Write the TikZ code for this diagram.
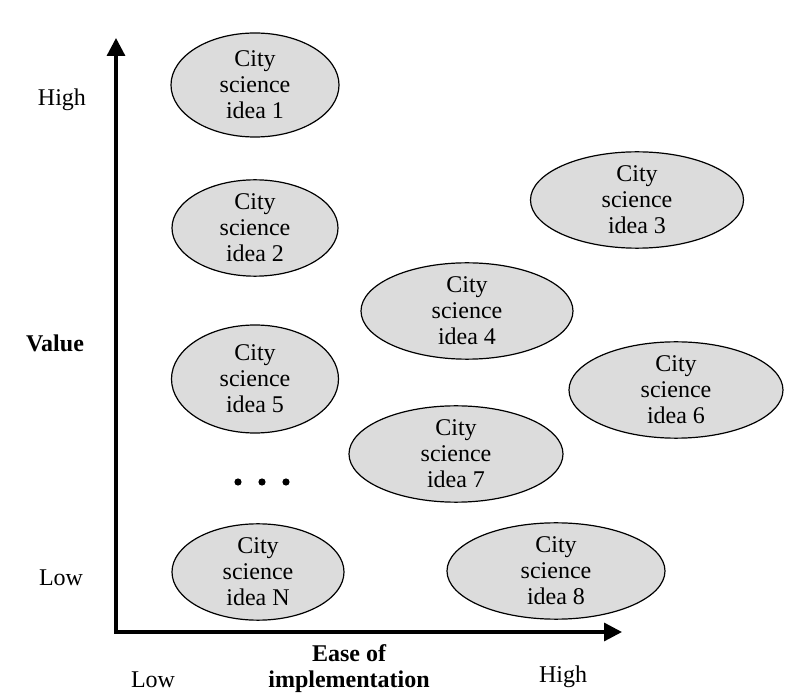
\documentclass[tikz,border=0pt]{standalone}
\usepackage{fontspec}
\setmainfont{Liberation Serif}
\usepackage{tikz}
\usetikzlibrary{shapes.geometric}
\usetikzlibrary{arrows.meta, positioning}
\usepackage{xcolor}
\definecolor{ideagray}{RGB}{220,220,220}

\begin{document}
\begin{tikzpicture}[x=0.5pt,y=-0.5pt,
    every node/.style={font=\fontsize{12}{13}\selectfont},
    idea/.style={ellipse, draw=black, line width=0.6pt, fill=ideagray,
        align=center, inner sep=0pt},
    axis/.style={line width=1.65pt, line join=miter,
        {Triangle[length=9pt,width=9pt]}-{Triangle[length=9pt,width=9pt]}},
    lbl/.style={anchor=mid, inner sep=0pt},
    bold lbl/.style={align=center, font=\fontsize{12}{13}\selectfont\bfseries},
    dot/.style={circle, fill=black, inner sep=0pt, minimum size=3.6pt}]
    \useasboundingbox (0,0) rectangle (789,700);

    % axes
    \coordinate (o) at (116,632);
    \coordinate (ytip) at (116,38);
    \coordinate (xtip) at (622,632);
    \draw[axis] (ytip) -- (o) -- (xtip);

    % axis labels
    \node (yhigh) at (62,100) {High};
    \node[bold lbl] (yval) at (55,343) {Value};
    \node (ylow) at (61,578) {Low};
    \node (xlow) at (153,680) {Low};
    \node[bold lbl] (xease) at (349,669) {Ease of\\implementation};
    \node (xhigh) at (563,677) {High};

    % ideas
    \node[idea, minimum width=84pt, minimum height=52pt] (i1) at (255,85) {City\\science\\idea 1};
    \node[idea, minimum width=83pt, minimum height=46pt] (i2) at (255,228) {City\\science\\idea 2};
    \node[idea, minimum width=106.5pt, minimum height=45.5pt] (i3) at (637,200) {City\\science\\idea 3};
    \node[idea, minimum width=106pt, minimum height=46pt] (i4) at (467,311) {City\\science\\idea 4};
    \node[idea, minimum width=83.5pt, minimum height=54pt] (i5) at (255,379) {City\\science\\idea 5};
    \node[idea, minimum width=107pt, minimum height=46pt] (i6) at (676,390) {City\\science\\idea 6};
    \node[idea, minimum width=107pt, minimum height=45.5pt] (i7) at (456,454) {City\\science\\idea 7};
    \node[idea, minimum width=86pt, minimum height=45.5pt] (iN) at (258,572) {City\\science\\idea N};
    \node[idea, minimum width=109pt, minimum height=46pt] (i8) at (556,571) {City\\science\\idea 8};

    % dots
    \foreach \n/\x in {1/238, 2/262, 3/286}
        \node[dot] (d\n) at (\x,482) {};

\end{tikzpicture}
\end{document}
